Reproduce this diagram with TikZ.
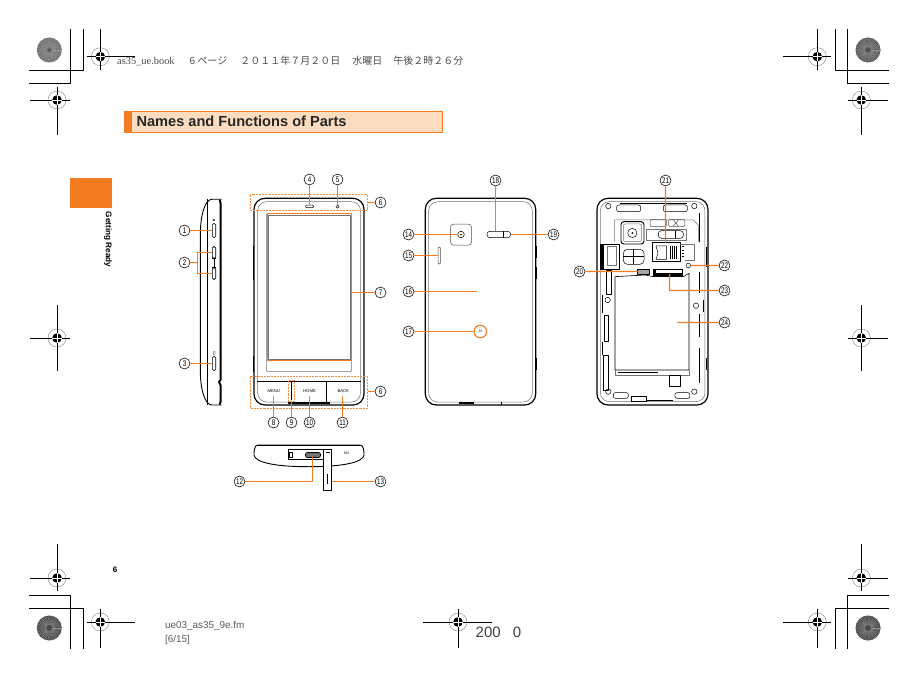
\documentclass[tikz,border=0pt]{standalone}
\usepackage{fontspec}
\setmainfont{Liberation Sans}
\newfontfamily\cjk{Noto Sans CJK JP}
\newfontfamily\headserif{Liberation Serif}
\newfontfamily\numfont[FakeStretch=0.76]{Liberation Sans}
\definecolor{leadorange}{HTML}{F47B20}
\definecolor{titlepeach}{HTML}{FDDDC0}
\tikzset{
	leader/.style={draw=leadorange,line width=1.2pt},
	dashbox/.style={draw=leadorange!85,line width=0.9pt,dash pattern=on 2.2pt off 1pt},
	nummark/.style={circle,draw,line width=0.55pt,inner sep=0pt,minimum size=11pt,font=\numfont\fontsize{8.2}{8}\selectfont},
	outline/.style={draw=black,line width=1.2pt,fill=white},
	inline/.style={draw=black!55,line width=0.5pt},
	keypart/.style={draw,line width=0.6pt,rounded corners=1.7pt,inner sep=0pt,minimum width=3.4pt},
	keytext/.style={inner sep=1.5pt,font=\fontsize{4.2}{5}\selectfont},
	crop/.style={draw=black,line width=0.7pt}
}
\begin{document}
\begin{tikzpicture}[x=1pt,y=-1pt,line join=round]
	\useasboundingbox (0,0) rectangle (918,679);
	%crop marks
	\draw[crop] (70.3,29)--(70.3,83.3)--(29,83.3) (83.3,29)--(83.3,70.7)--(29,70.7);
	\draw[crop] (835.3,29)--(835.3,70.7)--(889,70.7) (847.3,29)--(847.3,83.3)--(889,83.3);
	\draw[crop] (70.3,649)--(70.3,595.7)--(29,595.7) (83.3,649)--(83.3,608.3)--(29,608.3);
	\draw[crop] (835.3,649)--(835.3,608.3)--(889,608.3) (847.3,649)--(847.3,595.7)--(889,595.7);
	\foreach \cx/\cy/\sh in {49.3/50/55,868/50/65,49.3/628/72,868/628/72}{
		\fill[black!\sh] (\cx,\cy) circle (12.5pt);
		\foreach \a in {0,8,...,352}
			\draw[white!60!black,line width=0.25pt] (\cx,\cy)+(\a:3)--+(\a:12.5);
		\fill[black!70] (\cx,\cy) circle (1.5pt);
	}
	\foreach \cx/\cy/\hl/\hr/\vt/\vb in {100.3/56.7/87/135/29/70,57/100/30/70/87/135,817.3/56.7/783/831/29/70,861.3/100/848/888/87/135,
		57/338/30/70/305/371,861.3/338/848/888/305/371,57/578/30/70/544/591,861.3/578/848/888/544/591,
		100.3/622/87/135/609/648,458/622/423/492/609/648,817.3/622/783/831/609/648}{
		\draw[black!50,line width=0.4pt] (\cx,\cy) circle (9pt);
		\draw[crop] (\hl,\cy)--(\hr,\cy) (\cx,\vt)--(\cx,\vb);
		\fill[black] (\cx,\cy) circle (4.8pt);
		\draw[white,line width=0.9pt] (\cx-4.8,\cy)--(\cx+4.8,\cy) (\cx,\cy-4.8)--(\cx,\cy+4.8);
	}
	%print line, title, tab
	\node[anchor=west,inner sep=0pt,text=black!70,font=\fontsize{10}{11}\selectfont] (printline) at (117,61)
		{{\headserif\fontsize{10.4}{11}\selectfont as35\_ue.book}\hspace{15pt}{\cjk 6 ページ\hspace{13pt}２０１１年７月２０日\hspace{12pt}水曜日\hspace{11pt}午後２時２６分}};
	\draw[draw=leadorange,line width=0.8pt,fill=titlepeach] (124.5,111.5) rectangle (442.5,132.5);
	\fill[leadorange] (124,111) rectangle (132,133);
	\node[anchor=west,inner sep=0pt,text=black!85,font=\fontsize{14.6}{16}\selectfont\bfseries] (title) at (136.3,121.5) {Names and Functions of Parts};
	\fill[leadorange] (70,178) rectangle (112,208);
	\node[rotate=-90,inner sep=0pt,font=\fontsize{8.2}{9}\selectfont\bfseries] (tabtext) at (108,239.5) {Getting Ready};
	\node[inner sep=0pt,font=\fontsize{8}{9}\selectfont\bfseries] (pagenum) at (115,569.5) {6};
	\node[anchor=west,inner sep=0pt,text=black!65,font=\fontsize{9.9}{11}\selectfont] (fmname) at (165,626) {ue03\_as35\_9e.fm};
	\node[anchor=west,inner sep=0pt,text=black!65,font=\fontsize{9.9}{11}\selectfont] (fmpage) at (165,640) {[6/15]};
	\node[anchor=west,inner sep=0pt,text=black!75,font=\fontsize{15}{16}\selectfont] (stamp) at (475.5,632) {200\hspace{8pt} 0};
	%number marks
	\foreach \nm/\lab/\cx/\cy in {1/1/184.5/230.5,2/2/184.5/262.5,3/3/184.5/363.5,4/4/309.5/179.5,5/5/337.5/179.5,6/6/380.5/202.5,
		6b/6/380.5/391.5,7/7/380.5/292.5,8/8/273.5/422.5,9/9/291.5/422.5,10/10/309.5/422.5,11/11/342.5/422.5,12/12/239.5/481.5,13/13/380.5/481.5,
		14/14/408.5/234.5,15/15/408.5/255.5,16/16/408.5/291.5,17/17/408.5/331.5,18/18/495.5/180.5,19/19/553.5/234.5,
		20/20/579.5/271.5,21/21/665.5/180.5,22/22/724.5/265.5,23/23/724.5/290.5,24/24/724.5/322.5}
		\node[nummark] (n\nm) at (\cx,\cy) {\lab};
	%side view
	\draw[outline,line width=0.9pt] (221.7,199.3)--(212,199.3) .. controls (205,199.5) and (200.3,215) .. (200.3,235)--(200.3,370) .. controls (200.3,390) and (205,405) .. (212,405)--(221.7,405);
	\draw[black,line width=0.7pt] (207.7,199.3)--(207.7,405);
	\draw[black,line width=2pt,line cap=round] (219.8,200.5)--(220.5,203)--(220.5,380)--(219,382)--(220.5,385)--(220.5,402)--(219.8,404);
	\node[keypart,minimum height=14.4pt] (powerkey) at (214,230.5) {};
	\node[keypart,minimum height=12.3pt] (volup) at (214,252.5) {};
	\node[keypart,minimum height=12.3pt] (voldown) at (214,273.5) {};
	\node[keypart,minimum height=14.4pt] (lockkey) at (214,363.5) {};
	\draw[black,line width=0.5pt] (214,258.4)--(214,267.2) (212.3,258.4)--(215.7,258.4) (212.3,267.2)--(215.7,267.2);
	\draw[black,line width=0.4pt] (213.7,220) circle (1.1pt) (213.7,351.5) rectangle (215,355);
	\coordinate (brup) at (197.5,252.5);
	\coordinate (brmid) at (197.5,262.5);
	\coordinate (brdn) at (197.5,273.5);
	\draw[leader] (n1)--(powerkey.west);
	\draw[leader] (volup.west)--(brup)--(brdn)--(voldown.west);
	\draw[leader] (n2)--(brmid);
	\draw[leader] (n3)--(lockkey.west);
	%front view
	\draw[outline,rounded corners=11pt] (254,198.3) rectangle (364,405);
	\draw[inline,rounded corners=9pt] (257.7,201.7) rectangle (360.5,402);
	\draw[black,line width=0.6pt] (253.4,246)--(253.4,280) (253.4,356)--(253.4,372);
	\draw[inline,rounded corners=1.5pt] (266.3,213.3) rectangle (351.7,371.7);
	\draw[inline] (268.6,215) rectangle (349.8,358.8);
	\draw[black,line width=0.6pt] (257.3,381.7)--(360.7,381.7) (326,381.7)--(326,402);
	\draw[black,line width=0.8pt] (291.5,381.7)--(291.5,400);
	\fill[black] (288.3,402.3) rectangle (330,404.3);
	\node[keytext] (menukey) at (273.7,391) {MENU};
	\node[keytext] (homekey) at (309.5,391) {HOME};
	\node[keytext] (backkey) at (343.3,391) {BACK};
	\node[draw,line width=0.5pt,rounded corners=1pt,inner sep=0pt,minimum width=8pt,minimum height=2.6pt] (earpiece) at (309.5,206.4) {};
	\node[draw,line width=0.5pt,circle,inner sep=0pt,minimum size=3.2pt] (sensor) at (337.5,206.7) {};
	\draw[dashbox] (250,194.5) rectangle (367.5,210.5);
	\draw[dashbox] (250,376.5) rectangle (367.5,408);
	\draw[dashbox] (288.5,380.5) rectangle (294.5,401.5);
	\draw[leader] (267.5,213.5) rectangle (351.5,360.5);
	\coordinate (topbox) at (367.5,202.5);
	\coordinate (lowbox) at (367.5,391.5);
	\coordinate (screen) at (351.5,292.5);
	\coordinate (mic) at (291.5,401.5);
	\coordinate (menuend) at (273.5,396);
	\coordinate (homeend) at (309.5,396);
	\coordinate (backend) at (342.5,396);
	\draw[leader] (n4)--(earpiece.north);
	\draw[leader] (n5)--(sensor.north);
	\draw[leader] (topbox)--(n6);
	\draw[leader] (lowbox)--(n6b);
	\draw[leader] (screen)--(n7);
	\draw[leader] (n8)--(menuend);
	\draw[leader] (n9)--(mic);
	\draw[leader] (n10)--(homeend);
	\draw[leader] (n11)--(backend);
	%bottom view
	\draw[outline,line width=0.9pt] (258,445)--(360,445) .. controls (364,445) and (364,452) .. (364,455) .. controls (363,462) and (345,466.7) .. (309,466.7) .. controls (273,466.7) and (255,462) .. (254,455) .. controls (254,452) and (254,445) .. (258,445);
	\draw[black,line width=1.4pt] (258,445.3)--(360,445.3);
	\draw[black,line width=0.5pt,fill=white] (288.3,449) rectangle (323.3,459) (288.8,452.3) rectangle (292,457);
	\node[draw,fill=black!55,line width=0.7pt,rounded corners=2pt,inner sep=0pt,minimum width=15pt,minimum height=5pt] (usbport) at (313,455) {};
	\node[draw,fill=white,line width=0.5pt,inner sep=0pt,minimum width=8.4pt,minimum height=41pt] (flap) at (327.5,469.5) {};
	\draw[black,line width=0.5pt] (327.5,474)--(327.5,484) (326,452)--(329.5,452);
	\node[inner sep=0pt,font=\fontsize{3.6}{4}\selectfont] (mitext) at (346.7,453.3) {M1};
	\coordinate (elbow) at (312.5,481.5);
	\coordinate (portend) at (312.5,457);
	\draw[leader] (n12)--(elbow)--(portend);
	\draw[leader] (n13)--(flap.east |- n13);
	%back view
	\draw[outline,rounded corners=11pt] (425.3,198.3) rectangle (535.7,405);
	\draw[inline,rounded corners=9pt] (428.7,201.7) rectangle (532.3,402);
	\draw[black,line width=0.6pt] (536,246)--(536,258) (536,266.7)--(536,279) (536,358)--(536,370);
	\fill[black] (459.3,401.5) rectangle (474,403.5);
	\draw[black,line width=0.5pt] (501,402)--(501,405);
	\node[draw=black!70,line width=0.5pt,rounded corners=3pt,inner sep=0pt,minimum size=21pt] (camera) at (461,234.7) {};
	\node[draw,line width=0.5pt,circle,inner sep=0pt,minimum size=6.6pt] (lens) at (461,234.5) {};
	\fill[black] (lens.center) circle (0.9pt);
	\node[draw=black!70,line width=0.5pt,rounded corners=1pt,inner sep=0pt,minimum width=2.2pt,minimum height=17pt] (speaker) at (439.3,255.5) {};
	\node[draw,line width=0.5pt,rounded corners=3pt,inner sep=0pt,minimum width=23.7pt,minimum height=6.4pt] (flash) at (498.8,234.5) {};
	\draw[black,line width=0.5pt] (503.3,231.3)--(503.3,237.7);
	\node[circle,draw=leadorange,line width=1.1pt,inner sep=0pt,minimum size=12.6pt] (logomark) at (480.3,331.5) {};
	\node[inner sep=0pt,font=\fontsize{3.6}{4}\selectfont] (logotext) at (480.3,331.5) {N};
	\coordinate (camend) at (456.7,234.5);
	\coordinate (coverend) at (477.3,291.5);
	\coordinate (flashtop) at (495.5,231.3);
	\draw[leader] (n14)--(camend);
	\draw[leader] (n15)--(speaker.west);
	\draw[leader] (n16)--(coverend);
	\draw[leader] (n17)--(logomark.west);
	\draw[leader] (n18)--(flashtop);
	\draw[leader] (flash.east)--(n19);
	%open view, in the pixel grid of a 3x crop
	\begin{scope}[shift={(570,170)},x=0.3333pt,y=-0.3333pt]
		\draw[outline,rounded corners=11pt] (81,85) rectangle (414,705);
		\draw[inline,rounded corners=9pt] (91,95) rectangle (405,695);
		\draw[black,line width=1.4pt] (150,100)--(350,100);
		\foreach \sx in {140,280}
			\draw[black,line width=0.5pt,rounded corners=2pt] (\sx,105) rectangle (\sx+72,125);
		\foreach \sx/\sy in {115/108,373/108,115/665,373/665,113/390,378/407}
			\draw[black,line width=0.5pt] (\sx,\sy) circle (2.7pt);
		\foreach \sx/\sa/\sb in {97/375/430,97/515/555,389/130/215,389/305/368,389/432/500,389/535/640,410/230/290,410/565/600,400/390/425}
			\draw[black,line width=0.8pt] (\sx,\sa)--(\sx,\sb);
		\foreach \sa/\sb/\sc/\sd in {110/300/125/372,102/435/115/515,100/555/115/660}
			\draw[black,line width=0.5pt] (\sa,\sb) rectangle (\sc,\sd);
		\draw[inline] (133,215)--(133,150)--(370,150)--(385,165)--(385,215);
		\foreach \sx in {240,295}
			\draw[black!70,line width=0.5pt,rounded corners=2pt] (\sx,148) rectangle (\sx+50,170);
		\draw[black!70,line width=0.4pt] (310,150)--(325,168) (325,150)--(310,168);
		\draw[black,line width=0.9pt,fill=white,rounded corners=3pt] (153,155) rectangle (222,222);
		\draw[inline,rounded corners=2pt] (160,162) rectangle (215,215);
		\draw[black,line width=0.5pt] (187,189) circle (4.6pt);
		\fill[black] (187,189) circle (1pt);
		\draw[inline] (228,178) rectangle (350,210);
		\draw[black,line width=0.5pt,rounded corners=3pt] (265,182) rectangle (340,205);
		\draw[black,line width=0.5pt] (315,182)--(315,205);
		\draw[black,line width=0.9pt,fill=white] (92,222) rectangle (147,297);
		\fill[black] (92,222) rectangle (102,297);
		\draw[inline] (112,230) rectangle (140,285);
		\draw[black,line width=0.5pt,rounded corners=4pt] (160,238) rectangle (222,283);
		\draw[black,line width=0.5pt] (191,238)--(191,283) (160,260)--(222,260);
		\draw[black,line width=0.9pt] (247,218) rectangle (330,275);
		\draw[black,line width=0.5pt] (258,228)--(290,228)--(290,268)--(258,268)--(264,250)--cycle;
		\foreach \sx in {300,306,...,318}
			\draw[black,line width=0.6pt] (\sx,228)--(\sx,268);
		\draw[inline] (330,222)--(372,222)--(372,270)--(345,270);
		\foreach \sy in {230,240,...,260}
			\draw[black,line width=0.5pt] (335,\sy)--(341,\sy);
		\draw[black,line width=0.5pt,fill=black!35] (203,297) rectangle (238,312);
		\draw[black,line width=0.5pt] (355,286.5) circle (2.3pt);
		\fill[black] (250,296) rectangle (340,320);
		\fill[white] (258,300) rectangle (335,309);
		\draw[black,line width=0.6pt] (135,320)--(225,315)--(250,320)--(340,320)--(357,310)--(357,600)--(135,600)--cycle;
		\draw[inline] (137,600)--(137,615)--(357,615)--(357,600);
		\draw[black,line width=1pt] (145,607)--(265,607);
		\draw[black,line width=0.5pt] (297,617) rectangle (332,650);
		\foreach \sx in {130,315}
			\draw[black,line width=0.5pt,rounded corners=2pt] (\sx,668) rectangle (\sx+45,685);
		\draw[black,line width=0.8pt] (185,680) rectangle (228,695);
		\draw[black,line width=0.8pt] (228,690)--(310,690);
		\coordinate (wifiport) at (203,304.5);
		\coordinate (simtop) at (286.5,218);
		\coordinate (strapend) at (362,286.5);
		\coordinate (slotend) at (298.5,312);
		\coordinate (slotelbow) at (298.5,361.5);
		\coordinate (battend) at (322,457.5);
	\end{scope}
	\draw[leader] (n20)--(wifiport);
	\draw[leader] (n21)--(simtop);
	\draw[leader] (n22)--(strapend);
	\draw[leader] (n23)--(slotelbow)--(slotend);
	\draw[leader] (n24)--(battend);
\end{tikzpicture}
\end{document}
